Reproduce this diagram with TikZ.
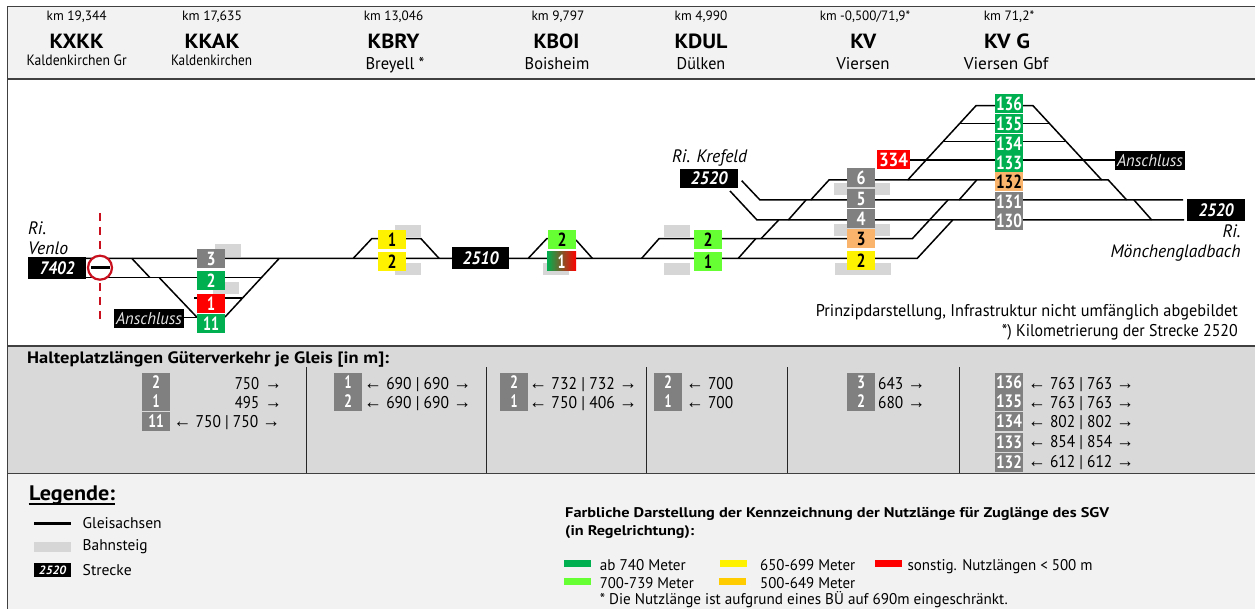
\documentclass[tikz,border=0pt]{standalone}
\usepackage{fontspec}
\usepackage{graphicx}
\setmainfont{PT Sans}
\newfontfamily\arrowf[Scale=1.15]{Liberation Sans}
\definecolor{dkgreen}{HTML}{00B050}
\definecolor{ltgreen}{HTML}{66FF33}
\definecolor{orng}{HTML}{FAB46C}
\definecolor{plat}{HTML}{D6D6D6}
\definecolor{tbl}{HTML}{D9D9D9}
\definecolor{hdr}{HTML}{F2F2F2}
\definecolor{gry}{HTML}{808080}
\definecolor{signred}{HTML}{C8101E}
\newcommand{\fw}[2]{\resizebox{#1pt}{\height}{#2}}
\newcommand{\la}{{\arrowf ←}}
\newcommand{\ra}{{\arrowf →}}
\newcommand{\sep}{\hspace{0.12em}}
\tikzset{
  x=1pt,y=-1pt,
  track/.style={draw=black,line width=1.5pt},
  gbox/.style={inner sep=0pt,minimum width=28pt,minimum height=19pt,font=\fontsize{19}{19}\selectfont\bfseries,text=white,fill=gry},
  bbox/.style={gbox,text=black},
  plate/.style={fill=plat,draw=none},
  black label/.style={fill=black,text=white,inner sep=0pt,font=\fontsize{18}{18}\selectfont\bfseries\itshape},
  anschl/.style={fill=black,text=white!90!black,inner sep=0pt,minimum width=70pt,minimum height=19pt,font=\fontsize{17}{17}\selectfont\itshape},
  km/.style={anchor=base,inner sep=0pt,font=\fontsize{13.5}{14}\selectfont},
  code/.style={anchor=base,inner sep=0pt,font=\fontsize{20.5}{20}\selectfont\bfseries},
  nam/.style={anchor=base,inner sep=0pt,font=\fontsize{17}{17}\selectfont},
  namsmall/.style={anchor=base,inner sep=0pt,font=\fontsize{15}{15}\selectfont},
  ital/.style={inner sep=0pt,font=\fontsize{18}{18}\selectfont\itshape},
  txt/.style={anchor=base west,inner sep=0pt,font=\fontsize{17}{17}\selectfont},
  tbadge/.style={inner sep=0pt,minimum width=28pt,minimum height=19pt,fill=gry,text=white,font=\fontsize{18}{18}\selectfont\bfseries},
  legtxt/.style={anchor=base west,inner sep=0pt,font=\fontsize{15.5}{16}\selectfont},
  sect/.style={draw=black!75,line width=1.3pt}
}
\begin{document}
\begin{tikzpicture}
\useasboundingbox (0,0) rectangle (1255,609);
\fill[white] (0,0) rectangle (1255,609);
% bands
\fill[hdr] (7.5,6.5) rectangle (1255,79);
\fill[tbl] (7.5,346) rectangle (1255,473.5);
\fill[hdr] (7.5,473.5) rectangle (1255,609);
\draw[sect] (1255,6.5) -- (7.5,6.5) -- (7.5,609);
\draw[sect] (7.5,79) -- (1255,79);
\draw[sect] (7.5,346) -- (1255,346);
\draw[sect] (7.5,473.5) -- (1255,473.5);
\foreach \xx in {306.5,486.5,646.5,787,959}{\draw[black!85,line width=0.9pt] (\xx,367) -- (\xx,473);}
% header
\node[km] (h1a) at (76.7,20.7) {\fw{60}{km 19,344}};
\node[code] (h1b) at (76.7,48.7) {\fw{54}{KXKK}};
\node[namsmall] (h1c) at (76.7,66) {\fw{100}{Kaldenkirchen Gr}};
\node[km] (h2a) at (212,20.7) {\fw{60}{km 17,635}};
\node[code] (h2b) at (212,48.7) {\fw{55}{KKAK}};
\node[namsmall] (h2c) at (211.5,66) {\fw{81}{Kaldenkirchen}};
\node[km] (h3a) at (393.5,20.7) {\fw{59.5}{km 13,046}};
\node[code] (h3b) at (393.6,48.7) {\fw{52}{KBRY}};
\node[nam] (h3c) at (395,69.5) {\fw{59}{Breyell *}};
\node[km] (h4a) at (558,20.7) {\fw{53}{km 9,797}};
\node[code] (h4b) at (556.5,48.7) {\fw{46}{KBOI}};
\node[nam] (h4c) at (557,69.5) {\fw{64.6}{Boisheim}};
\node[km] (h5a) at (701,20.7) {\fw{52.6}{km 4,990}};
\node[code] (h5b) at (701,48.7) {\fw{53}{KDUL}};
\node[nam] (h5c) at (701,69.5) {\fw{48.6}{Dülken}};
\node[km] (h6a) at (865,20.7) {\fw{90.5}{km -0,500/71,9*}};
\node[code] (h6b) at (863.4,48.7) {\fw{26}{KV}};
\node[nam] (h6c) at (863,69.5) {\fw{53.4}{Viersen}};
\node[km] (h7a) at (1009,20.7) {\fw{50.5}{km 71,2*}};
\node[code] (h7b) at (1007,48.7) {\fw{46}{KV G}};
\node[nam] (h7c) at (1006,69.5) {\fw{84.5}{Viersen Gbf}};
% platforms
\fill[plate] (215,244) rectangle (241,257);
\fill[plate] (213,282) rectangle (239,294);
\fill[plate] (395,225) rectangle (421,237);
\fill[plate] (395,263) rectangle (421,275);
\fill[plate] (543,263) rectangle (569,275);
\fill[plate] (664,225) rectangle (690,237);
\fill[plate] (664,263) rectangle (690,275);
\fill[plate] (834,182.7) rectangle (890,195);
\fill[plate] (834,224) rectangle (890,236);
\fill[plate] (835,262.7) rectangle (891,275);
% tracks
\draw[track] (86,258.3) -- (917.3,258.3) -- (952.7,220);
\draw[track] (86,277.7) -- (260.7,277.7);
\draw[track] (194,298) -- (241.7,298);
\draw[track] (184,317.3) -- (197,317.3);
\draw[track] (131.7,258.3) -- (150,277.7);
\draw[track] (159.3,277.7) -- (196.7,317);
\draw[track] (225,317) -- (279.3,258.3);
\draw[track] (353.3,258.3) -- (371.7,238.7) -- (421,238.7) -- (439,258.3);
\draw[track] (528.3,258.3) -- (546.7,238.7) -- (549,238.7);
\draw[track] (576,240) -- (592.3,258.3);
\draw[track] (641.7,258.3) -- (659,238.7) -- (912.3,238.7) -- (948,200);
\draw[track] (738.3,258.3) -- (755.7,238.7);
\draw[track] (761,238.7) -- (778.7,220);
\draw[track] (788.3,220) -- (806,200);
\draw[track] (810.7,200) -- (829,180) -- (1108.3,180) -- (1126.7,200);
\draw[track] (741.7,180.7) -- (760,200) -- (1183,200);
\draw[track] (730,191) -- (757,220) -- (1184,220);
\draw[track] (959,200) -- (976.7,180);
\draw[track] (907.7,180) -- (976,105.7) -- (1033,105.7) -- (1101.7,180);
\draw[track] (959,123.7) -- (1049,123.7);
\draw[track] (943,141.7) -- (1065,141.7);
\draw[track] (910,160) -- (1115,160);
\draw[track] (1134,200) -- (1151.7,220);
% border crossing
\draw[signred,line width=1.3pt,dash pattern=on 8pt off 6pt] (100,213) -- (100,322);
\node[circle,draw=signred,line width=2.2pt,fill=white,minimum size=24pt,inner sep=0pt] (noentry) at (100,267.7) {};
\draw[line width=2.6pt] (91,267.7) -- (110,267.7);
% track boxes
\node[gbox] (a3) at (211,258.5) {\fw{9}{3}};
\node[gbox,fill=dkgreen] (a2) at (211,280.5) {\fw{9}{2}};
\node[gbox,fill=red] (a1) at (211,303.5) {\fw{8}{1}};
\node[gbox,fill=dkgreen] (a11) at (211,323.5) {\fw{16}{11}};
\node[bbox,fill=yellow] (b1) at (392,239.5) {\fw{8}{1}};
\node[bbox,fill=yellow] (b2) at (392,261.5) {\fw{9}{2}};
\node[bbox,fill=ltgreen] (c2) at (562,239.5) {\fw{9}{2}};
\node[gbox,left color=dkgreen,right color=red,minimum width=29pt] (c1) at (561.5,261.5) {\fw{8}{1}};
\node[bbox,fill=ltgreen] (d2) at (708,239.5) {\fw{9}{2}};
\node[bbox,fill=ltgreen] (d1) at (708,261.5) {\fw{8}{1}};
\node[gbox] (e6) at (861,177.5) {\fw{9}{6}};
\node[gbox] (e5) at (861,198.5) {\fw{9}{5}};
\node[gbox] (e4) at (861,218.5) {\fw{9}{4}};
\node[bbox,fill=orng] (e3) at (861,238.5) {\fw{9}{3}};
\node[bbox,fill=yellow] (e2) at (861,260.3) {\fw{9}{2}};
\node[gbox,fill=red,minimum width=33pt] (f334) at (893.5,159.5) {\fw{29}{334}};
\node[gbox,fill=dkgreen] (f136) at (1009,103.5) {\fw{26}{136}};
\node[gbox,fill=dkgreen] (f135) at (1009,123.5) {\fw{26}{135}};
\node[gbox,fill=dkgreen] (f134) at (1009,143.5) {\fw{26}{134}};
\node[gbox,fill=dkgreen] (f133) at (1009,162.5) {\fw{26}{133}};
\node[bbox,fill=orng] (f132) at (1009,181.7) {\fw{26}{132}};
\node[gbox] (f131) at (1009,201.5) {\fw{26}{131}};
\node[gbox] (f130) at (1009,220.5) {\fw{26}{130}};
% labels
\node[black label,minimum width=58pt,minimum height=22pt] (l7402) at (57,268) {\fw{35}{7402}};
\node[black label,minimum width=57pt,minimum height=22pt] (l2510) at (480.5,258) {\fw{36}{2510}};
\node[black label,minimum width=58pt,minimum height=19pt] (l2520a) at (709,178.5) {\fw{37}{2520}};
\node[black label,minimum width=58pt,minimum height=22pt] (l2520b) at (1216,210) {\fw{35}{2520}};
\node[anschl] (an1) at (149,318.3) {\fw{66}{Anschluss}};
\node[anschl] (an2) at (1150,160.5) {\fw{66}{Anschluss}};
\node[ital,anchor=base west] (r1) at (28,235) {\fw{18}{Ri.}};
\node[ital,anchor=base west] (r2) at (28,255) {\fw{40}{Venlo}};
\node[ital,anchor=base west] (r3) at (672,162.5) {\fw{75}{Ri. Krefeld}};
\node[ital,anchor=base east] (r4) at (1240.7,238) {\fw{18}{Ri.}};
\node[ital,anchor=base east] (r5) at (1240.7,257.5) {\fw{130}{Mönchengladbach}};
\node[txt,anchor=base east] (p1) at (1238,317) {\fw{422}{Prinzipdarstellung, Infrastruktur nicht umfänglich abgebildet}};
\node[txt,anchor=base east] (p2) at (1238,336.5) {\fw{236}{*) Kilometrierung der Strecke 2520}};
% table
\node[txt,font=\fontsize{16.5}{17}\selectfont\bfseries] (t0) at (27,363.3) {\fw{362}{Halteplatzlängen Güterverkehr je Gleis [in m]:}};
\node[tbadge] (s1) at (156,382) {\fw{8}{2}};
\node[tbadge] (s2) at (156,401.5) {\fw{7}{1}};
\node[tbadge] (s3) at (156,421.5) {\fw{15.5}{11}};
\node[txt] (s1t) at (234.7,389) {\fw{47}{750\sep\ \ra}};
\node[txt] (s2t) at (234.7,408) {\fw{47}{495\sep\ \ra}};
\node[txt] (s3t) at (173.5,427.7) {\fw{106.5}{\la\ 750 | 750 \ra}};
\node[tbadge] (t1) at (348,382) {\fw{7}{1}};
\node[tbadge] (t2) at (348,401.5) {\fw{8}{2}};
\node[txt] (t1t) at (364,389) {\fw{107}{\la\ 690 | 690 \ra}};
\node[txt] (t2t) at (364,408) {\fw{107}{\la\ 690 | 690 \ra}};
\node[tbadge] (u1) at (514,382) {\fw{8}{2}};
\node[tbadge] (u2) at (514,401.5) {\fw{7}{1}};
\node[txt] (u1t) at (529,389) {\fw{108}{\la\ 732 | 732 \ra}};
\node[txt] (u2t) at (529,408) {\fw{108}{\la\ 750 | 406 \ra}};
\node[tbadge] (v1) at (668,382) {\fw{8}{2}};
\node[tbadge] (v2) at (668,401.5) {\fw{7}{1}};
\node[txt] (v1t) at (686,389) {\fw{47}{\la\ 700}};
\node[txt] (v2t) at (686,408) {\fw{47}{\la\ 700}};
\node[tbadge] (w1) at (861,382) {\fw{8}{3}};
\node[tbadge] (w2) at (861,401.5) {\fw{8}{2}};
\node[txt] (w1t) at (878,389) {\fw{47}{643 \ra}};
\node[txt] (w2t) at (878,408) {\fw{47}{680 \ra}};
\node[tbadge] (z1) at (1009,382) {\fw{26}{136}};
\node[tbadge] (z2) at (1009,401.5) {\fw{26}{135}};
\node[tbadge] (z3) at (1009,421.5) {\fw{26}{134}};
\node[tbadge] (z4) at (1009,442.5) {\fw{26}{133}};
\node[tbadge] (z5) at (1009,462.2) {\fw{26}{132}};
\node[txt] (z1t) at (1028,389) {\fw{106}{\la\ 763 | 763 \ra}};
\node[txt] (z2t) at (1028,408) {\fw{106}{\la\ 763 | 763 \ra}};
\node[txt] (z3t) at (1028,427.7) {\fw{106}{\la\ 802 | 802 \ra}};
\node[txt] (z4t) at (1028,447) {\fw{106}{\la\ 854 | 854 \ra}};
\node[txt] (z5t) at (1028,467) {\fw{106}{\la\ 612 | 612 \ra}};
% legend
\node[legtxt,font=\fontsize{21}{21}\selectfont\bfseries] (lg) at (29,500) {\fw{86}{Legende:}};
\draw[line width=2pt] (28.5,503.5) -- (115,503.5);
\draw[line width=2.4pt] (34,523.3) -- (71,523.3);
\node[legtxt] (lg1) at (82.5,528) {\fw{79}{Gleisachsen}};
\fill[plate] (34,542) rectangle (71,552);
\node[legtxt] (lg2) at (82.5,550.5) {\fw{65}{Bahnsteig}};
\node[fill=black,text=white,inner sep=0pt,minimum width=37pt,minimum height=13.4pt,font=\fontsize{12}{12}\selectfont\bfseries\itshape] (lg3b) at (52.5,570) {\fw{27}{2520}};
\node[legtxt] (lg3) at (82.5,575) {\fw{49}{Strecke}};
\node[legtxt,font=\fontsize{14}{14}\selectfont\bfseries] (k1) at (565,517) {\fw{544}{Farbliche Darstellung der Kennzeichnung der Nutzlänge für Zuglänge des SGV}};
\node[legtxt,font=\fontsize{14}{14}\selectfont\bfseries] (k2) at (565,535) {\fw{129}{(in Regelrichtung):}};
\fill[dkgreen] (564,560) rectangle (591.4,567);
\fill[ltgreen] (564,578) rectangle (591.4,585);
\fill[yellow] (720,560) rectangle (747,567);
\fill[orange!40!yellow!100] (718.7,578) rectangle (746,585);
\fill[red] (875,560) rectangle (902,567);
\node[legtxt] (k3) at (599.6,570) {\fw{86}{ab 740 Meter}};
\node[legtxt] (k4) at (599.6,588) {\fw{94}{700-739 Meter}};
\node[legtxt] (k5) at (760,570) {\fw{95}{650-699 Meter}};
\node[legtxt] (k6) at (760,588) {\fw{95}{500-649 Meter}};
\node[legtxt] (k7) at (907.4,570) {\fw{185}{sonstig. Nutzlängen < 500 m}};
\node[legtxt] (k8) at (599.6,604) {\fw{408}{* Die Nutzlänge ist aufgrund eines BÜ auf 690m eingeschränkt.}};
\end{tikzpicture}
\end{document}
